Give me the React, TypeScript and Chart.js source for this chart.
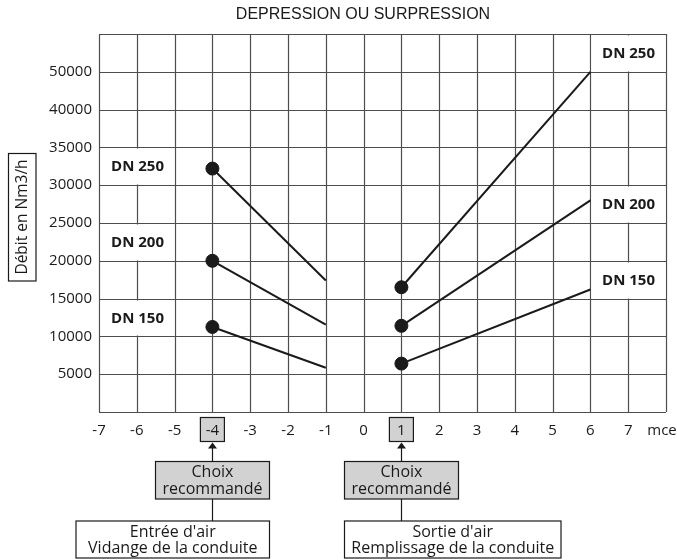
import React, { useEffect, useRef } from 'react';
import { Chart, registerables } from 'chart.js';

Chart.register(...registerables);

// ---------- data ----------
const diameters = ['DN 150', 'DN 200', 'DN 250'];
const entreeX = [-4, -1];
const entreeDN150 = [11250, 5850];
const entreeDN200 = [20000, 11550];
const entreeDN250 = [32200, 17400];
const sortieX = [1, 6];
const sortieDN150 = [6400, 16200];
const sortieDN200 = [11400, 28000];
const sortieDN250 = [16500, 45000];

const xTickLabels = ['-7', '-6', '-5', '-4', '-3', '-2', '-1', '0', '1', '2', '3', '4', '5', '6', '7'];
const xUnit = 'mce';
const yTickLabels = ['', '5000', '10000', '15000', '20000', '25000', '30000', '35000', '40000', '50000', ''];
const highlightTicks = [-4, 1];

const chartTitle = 'DEPRESSION OU SURPRESSION';
const yTitle = 'Débit en Nm3/h';
const choixLines = ['Choix', 'recommandé'];
const entreeLines = ["Entrée d'air", 'Vidange de la conduite'];
const sortieLines = ["Sortie d'air", 'Remplissage de la conduite'];

// ---------- styles ----------
const INK = '#1a1a1a';
const GRID = '#4d4d4d';
const GREY = '#d2d2d2';
const FONT = '"Open Sans", "Noto Sans", sans-serif';

const entreeSeries = [entreeDN150, entreeDN200, entreeDN250];
const sortieSeries = [sortieDN150, sortieDN200, sortieDN250];

function makeDataset(label: string, xs: number[], ys: number[]) {
  return {
    label,
    data: xs.map((x, i) => ({ x, y: ys[i] })),
    showLine: true,
    borderColor: INK,
    borderWidth: 2,
    pointRadius: xs.map((_, i) => (i === 0 ? 6.5 : 0)),
    pointBackgroundColor: INK,
    pointBorderColor: INK,
    pointBorderWidth: 1,
    pointHoverRadius: 0,
  };
}

const annotationPlugin = {
  id: 'annotations',
  beforeDraw(chart: any) {
    const ctx = chart.ctx;
    const xs = chart.scales.x;
    ctx.save();
    highlightTicks.forEach((t) => {
      const cx = xs.getPixelForValue(t);
      ctx.fillStyle = GREY;
      ctx.fillRect(cx - 12, 417.5, 24, 24);
      ctx.strokeStyle = INK;
      ctx.lineWidth = 1.2;
      ctx.strokeRect(cx - 12, 417.5, 24, 24);
    });
    ctx.restore();
  },
  beforeDatasetsDraw(chart: any) {
    const ctx = chart.ctx;
    const xs = chart.scales.x;
    const ys = chart.scales.y;
    const area = chart.chartArea;
    ctx.save();
    // grid lines through every tick of both scales
    ctx.strokeStyle = GRID;
    ctx.lineWidth = 1.2;
    ctx.beginPath();
    xs.ticks.forEach((t: any) => {
      const px = Math.round(xs.getPixelForValue(t.value)) + 0.5;
      ctx.moveTo(px, area.top);
      ctx.lineTo(px, area.bottom);
    });
    ys.ticks.forEach((t: any) => {
      const py = Math.round(ys.getPixelForValue(t.value)) + 0.5;
      ctx.moveTo(area.left, py);
      ctx.lineTo(area.right, py);
    });
    ctx.stroke();

    // label boxes for the diameters
    const band = 5000;
    const drawBox = (x0: number, x1: number, v: number, text: string) => {
      const lo = Math.floor(v / band) * band;
      const hi = lo + band;
      const px0 = Math.round(xs.getPixelForValue(x0)) + 0.5;
      const px1 = Math.round(xs.getPixelForValue(x1)) + 0.5;
      const py0 = Math.round(ys.getPixelForValue(hi)) + 0.5;
      const py1 = Math.round(ys.getPixelForValue(lo)) + 0.5;
      ctx.fillStyle = '#ffffff';
      ctx.fillRect(px0 + 1, py0 + 1, px1 - px0 - 2, py1 - py0 - 2);
      ctx.fillStyle = INK;
      ctx.font = `bold 15px ${FONT}`;
      ctx.textAlign = 'center';
      ctx.textBaseline = 'middle';
      ctx.fillText(text, (px0 + px1) / 2, (py0 + py1) / 2 + 0.5);
    };
    diameters.forEach((d, i) => {
      drawBox(-7, -5, entreeSeries[i][0], d);
      drawBox(6, 8, sortieSeries[i][sortieSeries[i].length - 1], d);
    });
    ctx.restore();
  },
  afterDraw(chart: any) {
    const ctx = chart.ctx;
    const xs = chart.scales.x;
    ctx.save();
    ctx.fillStyle = INK;
    ctx.font = '16px "Liberation Sans", Arial, sans-serif';
    ctx.textAlign = 'center';
    ctx.textBaseline = 'middle';
    ctx.fillText(chartTitle, 363, 15);

    ctx.font = `15px ${FONT}`;
    ctx.fillText(xUnit, 662, 431);

    ctx.strokeStyle = INK;
    ctx.lineWidth = 1.2;
    ctx.strokeRect(8.5, 153.5, 27.5, 127.5);
    ctx.save();
    ctx.translate(22.5, 217);
    ctx.rotate(-Math.PI / 2);
    ctx.font = `15.5px ${FONT}`;
    ctx.fillText(yTitle, 0, 0.5);
    ctx.restore();

    highlightTicks.forEach((t, k) => {
      const cx = xs.getPixelForValue(t);
      const bx = Math.round(cx) + 0.5;
      ctx.strokeStyle = INK;
      ctx.lineWidth = 1.2;
      ctx.beginPath();
      ctx.moveTo(bx, 461);
      ctx.lineTo(bx, 447);
      ctx.moveTo(bx, 499);
      ctx.lineTo(bx, 521);
      ctx.stroke();
      ctx.fillStyle = INK;
      ctx.beginPath();
      ctx.moveTo(bx, 442.5);
      ctx.lineTo(bx - 4.5, 448.5);
      ctx.lineTo(bx + 4.5, 448.5);
      ctx.closePath();
      ctx.fill();

      const cw = 114;
      const cxl = Math.round(cx - cw / 2) + 0.5;
      ctx.fillStyle = GREY;
      ctx.fillRect(cxl, 461.5, cw, 37.5);
      ctx.strokeRect(cxl, 461.5, cw, 37.5);
      ctx.fillStyle = INK;
      ctx.font = `16px ${FONT}`;
      ctx.textAlign = 'center';
      ctx.fillText(choixLines[0], cxl + cw / 2, 472.5);
      ctx.fillText(choixLines[1], cxl + cw / 2, 489);

      const lines = k === 0 ? entreeLines : sortieLines;
      const ww = k === 0 ? 193.5 : 216.5;
      const wl = k === 0 ? cxl + cw - ww : cxl;
      ctx.fillStyle = '#ffffff';
      ctx.fillRect(wl, 521, ww, 37);
      ctx.strokeRect(wl, 521, ww, 37);
      ctx.fillStyle = INK;
      ctx.fillText(lines[0], wl + ww / 2, 532.5);
      ctx.fillText(lines[1], wl + ww / 2, 548.5);
    });
    ctx.restore();
  },
};

export default function App() {
  const ref = useRef<HTMLCanvasElement | null>(null);

  useEffect(() => {
    document.body.style.margin = '0';
    const canvas = ref.current;
    if (!canvas) return;
    const datasets: any[] = [];
    diameters.forEach((d, i) => {
      datasets.push(makeDataset(`${d} entrée`, entreeX, entreeSeries[i]));
      datasets.push(makeDataset(`${d} sortie`, sortieX, sortieSeries[i]));
    });

    const chart = new Chart(canvas, {
      type: 'scatter',
      data: { datasets },
      options: {
        responsive: false,
        animation: false,
        layout: { padding: { left: 0, right: 11, top: 34, bottom: 0 } },
        plugins: {
          legend: { display: false },
          tooltip: { enabled: false },
          title: { display: false },
        },
        scales: {
          x: {
            type: 'linear',
            min: -7,
            max: 8,
            ticks: {
              stepSize: 1,
              autoSkip: false,
              maxRotation: 0,
              padding: 10,
              color: INK,
              font: { family: FONT, size: 15 },
              callback: (v: any) => xTickLabels[Math.round(Number(v)) + 7] ?? '',
            },
            grid: { display: false, drawTicks: false },
            border: { display: false },
            afterFit: (s: any) => {
              s.height = 148;
            },
          },
          y: {
            type: 'linear',
            min: 0,
            max: 50000,
            ticks: {
              stepSize: 5000,
              autoSkip: false,
              padding: 7,
              color: INK,
              font: { family: FONT, size: 15 },
              callback: (_v: any, i: number) => yTickLabels[i] ?? '',
            },
            grid: { display: false, drawTicks: false },
            border: { display: false },
            afterFit: (s: any) => {
              s.width = 99;
            },
          },
        },
      },
      plugins: [annotationPlugin],
    });
    return () => chart.destroy();
  }, []);

  return <canvas ref={ref} width={677} height={560} style={{ display: 'block' }} />;
}
